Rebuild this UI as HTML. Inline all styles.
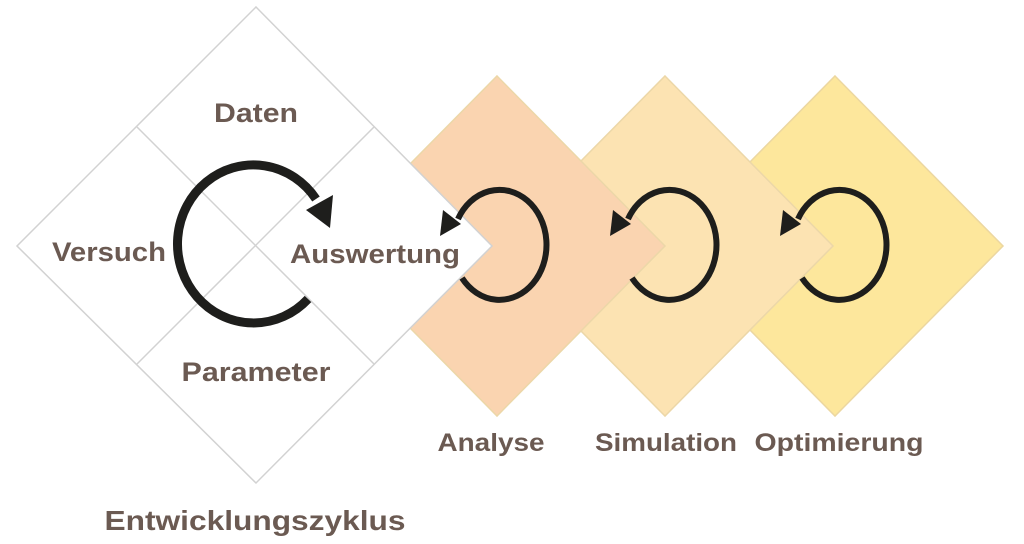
<!DOCTYPE html>
<html><head><meta charset="utf-8"><style>
html,body{margin:0;padding:0;background:#fff;}
svg{display:block;}
text{font-family:"Liberation Sans",sans-serif;font-weight:bold;fill:#6b5a52;text-anchor:middle;}
</style></head><body>
<svg width="1024" height="544" viewBox="0 0 1024 544">
<polygon points="835,76 1003,246 835,416 667,246" fill="#fde79c" stroke="#ecd7a0" stroke-width="1.5"/>
<polygon points="665,76 833,246 665,416 497,246" fill="#fce3b2" stroke="#ecd7a8" stroke-width="1.5"/>
<polygon points="497,76 665,246 497,416 329,246" fill="#fad4b0" stroke="#ecd7a8" stroke-width="1.5"/>
<polygon points="256,7 492,246 256,483 17,246" fill="#fff" stroke="#d2d2d2" stroke-width="1.5"/>
<line x1="137" y1="127" x2="374" y2="364" stroke="#d2d2d2" stroke-width="1.5"/>
<line x1="374" y1="127" x2="137" y2="364" stroke="#d2d2d2" stroke-width="1.5"/>
<g fill="none" stroke="#1e1e1c" stroke-width="9">
<path d="M308,299 A76,79 0 1 1 316,199"/>
</g>
<polygon points="306,210 333,195 330,228" fill="#1e1e1c"/>
<g fill="none" stroke="#1e1e1c" stroke-width="6">
<path d="M462,278 A47,55 0 1 0 458,219"/>
<path d="M632,278 A47,55 0 1 0 628,219"/>
<path d="M802,278 A47,55 0 1 0 798,219"/>
</g>
<polygon points="440,236 443,210 461,224" fill="#1e1e1c"/>
<polygon points="610,236 613,210 631,224" fill="#1e1e1c"/>
<polygon points="780,236 783,210 801,224" fill="#1e1e1c"/>
<text x="256" y="122" font-size="27" textLength="84" lengthAdjust="spacingAndGlyphs">Daten</text>
<text x="109" y="261" font-size="27" textLength="114" lengthAdjust="spacingAndGlyphs">Versuch</text>
<text x="375" y="263" font-size="27" textLength="170" lengthAdjust="spacingAndGlyphs">Auswertung</text>
<text x="256" y="381" font-size="27" textLength="149" lengthAdjust="spacingAndGlyphs">Parameter</text>
<text x="491" y="451" font-size="25" textLength="107" lengthAdjust="spacingAndGlyphs">Analyse</text>
<text x="666" y="451" font-size="25" textLength="142" lengthAdjust="spacingAndGlyphs">Simulation</text>
<text x="839" y="451" font-size="25" textLength="169" lengthAdjust="spacingAndGlyphs">Optimierung</text>
<text x="255" y="530" font-size="28" textLength="301" lengthAdjust="spacingAndGlyphs">Entwicklungszyklus</text>
</svg>
</body></html>
